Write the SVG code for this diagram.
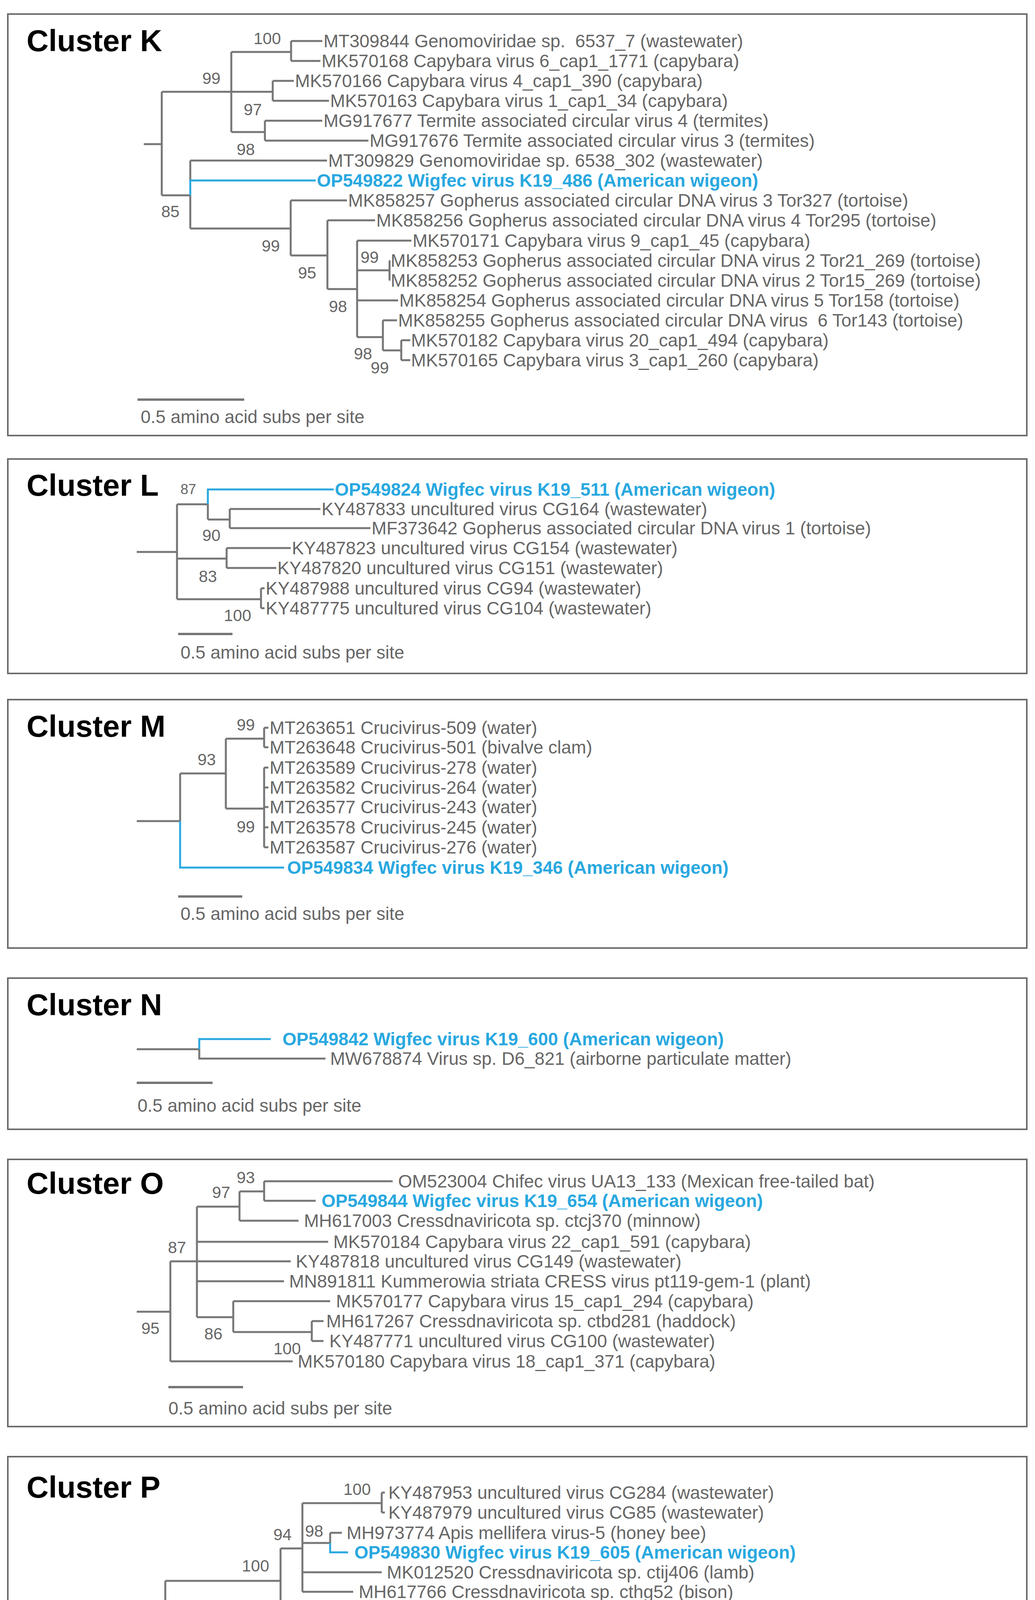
<svg xmlns="http://www.w3.org/2000/svg" width="2649" height="5102" viewBox="0 0 2649 5102">
<style>
.box{fill:#fff;stroke:#6b6b6b;stroke-width:4}
.ti{font-family:"Liberation Sans",Arial,sans-serif;font-weight:bold;font-size:78px;fill:#000}
.t{font-family:"Liberation Sans",Arial,sans-serif;font-size:46px;fill:#666;white-space:pre}
.bt{font-family:"Liberation Sans",Arial,sans-serif;font-size:46px;font-weight:bold;fill:#29a8e0;white-space:pre}
.b{font-family:"Liberation Sans",Arial,sans-serif;font-size:42px;fill:#666;text-anchor:middle}
.br{fill:none;stroke:#767676;stroke-width:5}
.bl{fill:none;stroke:#29a8e0;stroke-width:5}
.sc{stroke:#767676;stroke-width:6}
</style>
<rect width="2649" height="5102" fill="#fff"/>

<g id="clusterK">
<rect class="box" x="20" y="36" width="2608" height="1079"/>
<text class="ti" x="68" y="131">Cluster K</text>
<g id="K-connectors">
<path class="br" d="M368 369H414M414 235V500M414 235H592M592 133V338M592 133H745M745 105V156M745 105H825M745 156H820M592 235H698M698 207V258M698 207H752M698 258H842M592 338H678M678 309V360M678 309H825M678 360H943M414 500H487M487 411V462M487 500V585M487 411H837M487 585H744M744 513V654M744 513H888M744 654H838M838 564V740M838 564H960M838 740H914M914 616V863M914 616H1053M914 769H1019M914 692H997M997 667V718M997 667H998M997 718H998M914 863H980M980 820V897M980 820H1016M980 897H1027M1027 871V922M1027 871H1050M1027 922H1050"/>
<path class="bl" d="M487 500V462H808"/>
</g>
<text class="b" x="684" y="113">100</text><text class="b" x="541" y="215">99</text><text class="b" x="647" y="295">97</text><text class="b" x="629" y="397">98</text><text class="b" x="436" y="556">85</text><text class="b" x="693" y="644">99</text><text class="b" x="786" y="713">95</text><text class="b" x="865" y="799">98</text><text class="b" x="946" y="673">99</text><text class="b" x="929" y="920">98</text><text class="b" x="972" y="956">99</text>
<text class="t" x="828" y="121">MT309844 Genomoviridae sp.  6537_7 (wastewater)</text>
<text class="t" x="823" y="172">MK570168 Capybara virus 6_cap1_1771 (capybara)</text>
<text class="t" x="755" y="223">MK570166 Capybara virus 4_cap1_390 (capybara)</text>
<text class="t" x="845" y="274">MK570163 Capybara virus 1_cap1_34 (capybara)</text>
<text class="t" x="828" y="325">MG917677 Termite associated circular virus 4 (termites)</text>
<text class="t" x="946" y="376">MG917676 Termite associated circular virus 3 (termites)</text>
<text class="t" x="840" y="427">MT309829 Genomoviridae sp. 6538_302 (wastewater)</text>
<text class="bt" x="811" y="478">OP549822 Wigfec virus K19_486 (American wigeon)</text>
<text class="t" x="891" y="529">MK858257 Gopherus associated circular DNA virus 3 Tor327 (tortoise)</text>
<text class="t" x="963" y="580">MK858256 Gopherus associated circular DNA virus 4 Tor295 (tortoise)</text>
<text class="t" x="1056" y="632">MK570171 Capybara virus 9_cap1_45 (capybara)</text>
<text class="t" x="1000" y="683">MK858253 Gopherus associated circular DNA virus 2 Tor21_269 (tortoise)</text>
<text class="t" x="1000" y="734">MK858252 Gopherus associated circular DNA virus 2 Tor15_269 (tortoise)</text>
<text class="t" x="1022" y="785">MK858254 Gopherus associated circular DNA virus 5 Tor158 (tortoise)</text>
<text class="t" x="1019" y="836">MK858255 Gopherus associated circular DNA virus  6 Tor143 (tortoise)</text>
<text class="t" x="1052" y="887">MK570182 Capybara virus 20_cap1_494 (capybara)</text>
<text class="t" x="1052" y="938">MK570165 Capybara virus 3_cap1_260 (capybara)</text>
<line class="sc" x1="352" y1="1023" x2="625" y2="1023"/>
<text class="t" x="360" y="1083">0.5 amino acid subs per site</text>
</g>

<g id="clusterL">
<rect class="box" x="20" y="1175" width="2608" height="549"/>
<text class="ti" x="68" y="1269">Cluster L</text>
<g id="L-connectors">
<path class="br" d="M350 1413H453M453 1291V1534M453 1291H532M532 1291V1330M532 1330H588M588 1303V1352M588 1303H820M588 1352H948M453 1430H580M580 1403V1454M580 1403H744M580 1454H707M453 1534H668M668 1506V1557M668 1506H677M668 1557H677"/>
<path class="bl" d="M532 1291V1253H854"/>
</g>
<text class="b" x="482" y="1265" style="font-size:36px">87</text><text class="b" x="541" y="1385">90</text><text class="b" x="532" y="1490">83</text><text class="b" x="608" y="1590">100</text>
<text class="bt" x="857" y="1269">OP549824 Wigfec virus K19_511 (American wigeon)</text>
<text class="t" x="823" y="1319">KY487833 uncultured virus CG164 (wastewater)</text>
<text class="t" x="951" y="1368">MF373642 Gopherus associated circular DNA virus 1 (tortoise)</text>
<text class="t" x="747" y="1419">KY487823 uncultured virus CG154 (wastewater)</text>
<text class="t" x="710" y="1470">KY487820 uncultured virus CG151 (wastewater)</text>
<text class="t" x="680" y="1522">KY487988 uncultured virus CG94 (wastewater)</text>
<text class="t" x="680" y="1573">KY487775 uncultured virus CG104 (wastewater)</text>
<line class="sc" x1="456" y1="1623" x2="595" y2="1623"/>
<text class="t" x="462" y="1686">0.5 amino acid subs per site</text>
</g>

<g id="clusterM">
<rect class="box" x="20" y="1791" width="2608" height="636"/>
<text class="ti" x="68" y="1886">Cluster M</text>
<g id="M-connectors">
<path class="br" d="M350 2102H461M461 1980V2102M461 1980H578M578 1891V2070M578 1891H676M676 1863V1913M676 1863H687M676 1913H687M578 2070H676M676 1965V2169M676 1965H687M676 2016H687M676 2066H687M676 2118H687M676 2169H687"/>
<path class="bl" d="M461 2102V2221H727"/>
</g>
<text class="b" x="629" y="1870">99</text><text class="b" x="529" y="1959">93</text><text class="b" x="629" y="2131">99</text>
<text class="t" x="690" y="1879">MT263651 Crucivirus-509 (water)</text>
<text class="t" x="690" y="1929">MT263648 Crucivirus-501 (bivalve clam)</text>
<text class="t" x="690" y="1981">MT263589 Crucivirus-278 (water)</text>
<text class="t" x="690" y="2032">MT263582 Crucivirus-264 (water)</text>
<text class="t" x="690" y="2082">MT263577 Crucivirus-243 (water)</text>
<text class="t" x="690" y="2134">MT263578 Crucivirus-245 (water)</text>
<text class="t" x="690" y="2185">MT263587 Crucivirus-276 (water)</text>
<text class="bt" x="735" y="2237">OP549834 Wigfec virus K19_346 (American wigeon)</text>
<line class="sc" x1="456" y1="2295" x2="620" y2="2295"/>
<text class="t" x="462" y="2355">0.5 amino acid subs per site</text>
</g>

<g id="clusterN">
<rect class="box" x="20" y="2504" width="2608" height="387"/>
<text class="ti" x="68" y="2599">Cluster N</text>
<g id="N-connectors">
<path class="br" d="M350 2686H510M510 2686V2710H833"/>
<path class="bl" d="M510 2686V2660H693"/>
</g>
<text class="bt" x="723" y="2676">OP549842 Wigfec virus K19_600 (American wigeon)</text>
<text class="t" x="845" y="2726">MW678874 Virus sp. D6_821 (airborne particulate matter)</text>
<line class="sc" x1="350" y1="2772" x2="544" y2="2772"/>
<text class="t" x="352" y="2846">0.5 amino acid subs per site</text>
</g>

<g id="clusterO">
<rect class="box" x="20" y="2968" width="2608" height="684"/>
<text class="ti" x="68" y="3056">Cluster O</text>
<g id="O-connectors">
<path class="br" d="M350 3358H436M436 3229V3485M436 3229H744M436 3485H749M504 3089V3372M504 3089H613M613 3050V3125M613 3050H676M676 3024V3074M676 3024H1005M676 3074H808M613 3125H764M504 3179H840M504 3280H727M504 3372H597M597 3331V3410M597 3331H845M597 3410H798M798 3382V3433M798 3382H828M798 3433H828"/>
</g>
<text class="b" x="629" y="3029">93</text><text class="b" x="566" y="3067">97</text><text class="b" x="453" y="3208">87</text><text class="b" x="385" y="3415">95</text><text class="b" x="546" y="3429">86</text><text class="b" x="735" y="3467">100</text>
<text class="t" x="1019" y="3040">OM523004 Chifec virus UA13_133 (Mexican free-tailed bat)</text>
<text class="bt" x="823" y="3090">OP549844 Wigfec virus K19_654 (American wigeon)</text>
<text class="t" x="778" y="3141">MH617003 Cressdnaviricota sp. ctcj370 (minnow)</text>
<text class="t" x="853" y="3195">MK570184 Capybara virus 22_cap1_591 (capybara)</text>
<text class="t" x="757" y="3245">KY487818 uncultured virus CG149 (wastewater)</text>
<text class="t" x="740" y="3296">MN891811 Kummerowia striata CRESS virus pt119-gem-1 (plant)</text>
<text class="t" x="860" y="3347">MK570177 Capybara virus 15_cap1_294 (capybara)</text>
<text class="t" x="835" y="3398">MH617267 Cressdnaviricota sp. ctbd281 (haddock)</text>
<text class="t" x="843" y="3449">KY487771 uncultured virus CG100 (wastewater)</text>
<text class="t" x="762" y="3501">MK570180 Capybara virus 18_cap1_371 (capybara)</text>
<line class="sc" x1="431" y1="3551" x2="622" y2="3551"/>
<text class="t" x="431" y="3621">0.5 amino acid subs per site</text>
</g>

<g id="clusterP">
<rect class="box" x="20" y="3729" width="2608" height="733"/>
<text class="ti" x="68" y="3834">Cluster P</text>
<g id="P-connectors">
<path class="br" d="M350 4165H423M423 4047V4281M423 4047H718M718 3964V4127M718 3964H774M774 3848V4075M774 3848H977M977 3821V3872M977 3821H985M977 3872H985M774 3950H845M845 3924V3950M845 3924H875M774 4025H977M774 4075H904M718 4127H853M423 4178H656M423 4229H676M423 4281H828"/>
<path class="bl" d="M845 3950V3974H891"/>
</g>
<text class="b" x="914" y="3827">100</text><text class="b" x="723" y="3943">94</text><text class="b" x="804" y="3934">98</text><text class="b" x="654" y="4023">100</text>
<text class="t" x="994" y="3837">KY487953 uncultured virus CG284 (wastewater)</text>
<text class="t" x="994" y="3888">KY487979 uncultured virus CG85 (wastewater)</text>
<text class="t" x="887" y="3940">MH973774 Apis mellifera virus-5 (honey bee)</text>
<text class="bt" x="907" y="3990">OP549830 Wigfec virus K19_605 (American wigeon)</text>
<text class="t" x="990" y="4041">MK012520 Cressdnaviricota sp. ctij406 (lamb)</text>
<text class="t" x="918" y="4091">MH617766 Cressdnaviricota sp. cthg52 (bison)</text>
<text class="t" x="866" y="4143">MK570179 Capybara virus 17_cap1_330 (capybara)</text>
<text class="t" x="670" y="4194">MK570170 Capybara virus 8_cap1_36 (capybara)</text>
<text class="t" x="690" y="4245">KM598399 Odonata-associated circular virus-2 (dragonfly)</text>
<text class="bt" x="858" y="4297">OP549829 Wigfec virus K19_598 (American wigeon)</text>
<line class="sc" x1="419" y1="4335" x2="617" y2="4335"/>
<text class="t" x="421" y="4406">0.5 amino acid subs per site</text>
</g>

<g id="clusterQ">
<rect class="box" x="20" y="4539" width="2608" height="545"/>
<text class="ti" x="68" y="4632">Cluster Q</text>
<g id="Q-connectors">
<path class="br" d="M350 4758H436M436 4691V4820M436 4691H546M546 4655V4691M546 4655H681M681 4628V4679M681 4628H739M681 4679H749M436 4820H588M588 4782V4860M588 4782H654M588 4860H642M642 4831V4882M642 4831H658M642 4882H668"/>
<path class="bl" d="M546 4691V4730H727"/>
</g>
<text class="b" x="630" y="4634">99</text><text class="b" x="495" y="4673">90</text><text class="b" x="541" y="4877">98</text><text class="b" x="590" y="4917">96</text>
<text class="t" x="754" y="4644">KY487806 uncultured virus CG135 (wastewater)</text>
<text class="t" x="765" y="4695">KT732833 Pacific flying fox faeces associated circular DNA virus-14 (flying fox)</text>
<text class="bt" x="744" y="4746">OP549835 Wigfec virus K19_385 (American wigeon)</text>
<text class="t" x="672" y="4798">KY487789 uncultured virus CG118 (wastewater)</text>
<text class="t" x="662" y="4847">MH973752 Apis mellifera virus-7 (honey bee)</text>
<text class="t" x="672" y="4898">KY487927 uncultured virus CG258 (wastewater)</text>
<line class="sc" x1="350" y1="4947" x2="544" y2="4947"/>
<text class="t" x="352" y="5023">0.5 amino acid subs per site</text>
</g>
</svg>
